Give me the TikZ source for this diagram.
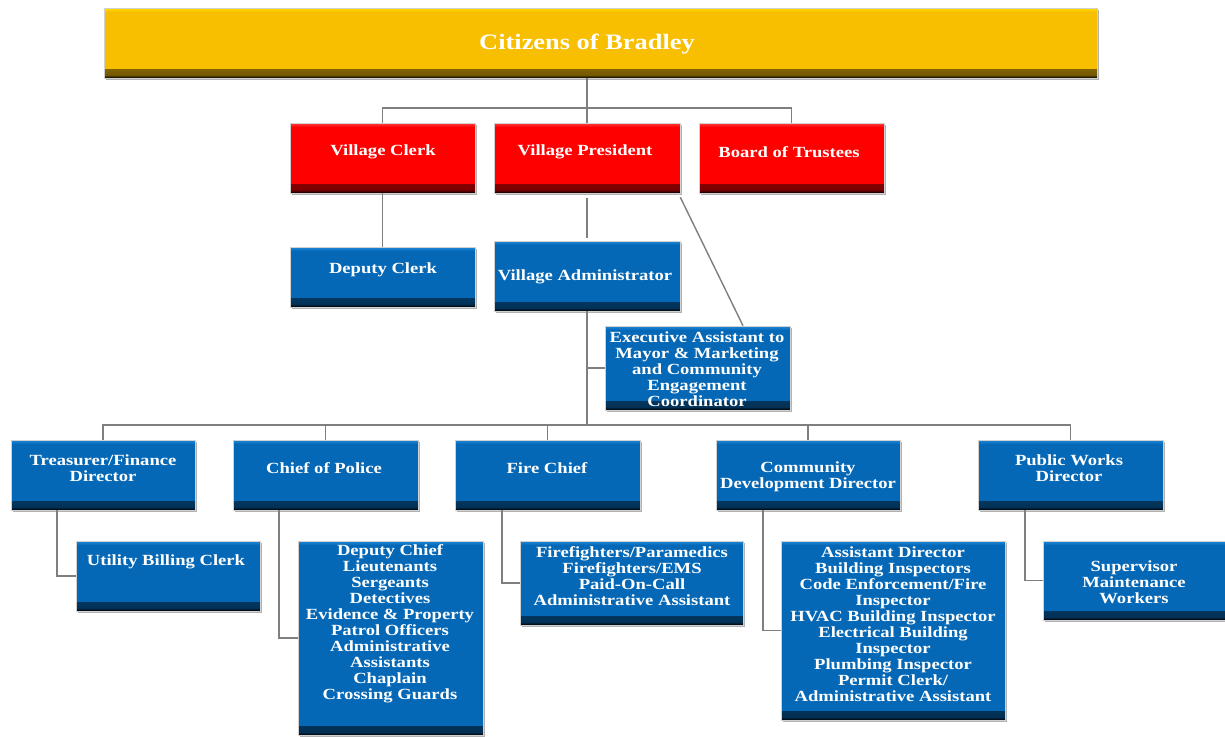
\documentclass[tikz,border=0pt]{standalone}
\usepackage{fontspec}
\setmainfont{Liberation Serif}[FakeStretch=1.2]
\usetikzlibrary{shadows}
\definecolor{boxblue}{HTML}{0568B6}
\definecolor{boxbluelight}{HTML}{1E88DA}
\definecolor{boxred}{HTML}{FF0000}
\definecolor{boxredlight}{HTML}{FF4040}
\definecolor{boxgold}{HTML}{F8BE00}
\definecolor{boxgoldlight}{HTML}{FFE000}
\definecolor{linegray}{HTML}{7F7F7F}
\tikzset{
  bevel/.style n args={2}{rectangle, draw=black!18, line width=0.6pt, inner sep=0pt, fill=#1,
    drop shadow={shadow xshift=1.5pt, shadow yshift=-1.5pt, opacity=0.3, fill=black},
    path picture={
      \shade[top color=#1, bottom color=#1!45!black]
        ([yshift=9pt]path picture bounding box.south west) rectangle ([yshift=3pt]path picture bounding box.south east);
      \shade[top color=#1!45!black, bottom color=black]
        ([yshift=3pt]path picture bounding box.south west) rectangle (path picture bounding box.south east);
      \shade[top color=#2, bottom color=#1]
        (path picture bounding box.north west) rectangle ([yshift=-4pt]path picture bounding box.north east);
    }},
  bluebox/.style={bevel={boxblue}{boxbluelight}},
  redbox/.style={bevel={boxred}{boxredlight}},
  goldbox/.style={bevel={boxgold}{boxgoldlight}},
  tlabel/.style={text=white, font=\bfseries\fontsize{15.5}{16}\selectfont, align=center, inner sep=0pt},
  conn/.style={draw=linegray, line width=1.4pt},
}
\begin{document}
\begin{tikzpicture}[x=1pt,y=-1pt]
\useasboundingbox[fill=white] (0,0) rectangle (1225,736);
\coordinate (bus1) at (588,108);
\coordinate (bus2) at (588,425);

% boxes
\node[goldbox, minimum width=993pt, minimum height=70pt] (cit) at (600.5,43) {};
\node[redbox, minimum width=185pt, minimum height=70pt] (vc) at (382.5,158) {};
\node[redbox, minimum width=186pt, minimum height=70pt] (vp) at (587,158) {};
\node[redbox, minimum width=185pt, minimum height=70pt] (bt) at (791.5,158) {};
\node[bluebox, minimum width=185pt, minimum height=60pt] (dc) at (382.5,277) {};
\node[bluebox, minimum width=186pt, minimum height=70pt] (va) at (587,276) {};
\node[bluebox, minimum width=185pt, minimum height=84pt] (ea) at (697.5,368) {};
\node[bluebox, minimum width=184pt, minimum height=70pt] (tr) at (103,475) {};
\node[bluebox, minimum width=185pt, minimum height=70pt] (cp) at (325.5,475) {};
\node[bluebox, minimum width=185pt, minimum height=70pt] (fc) at (547.5,475) {};
\node[bluebox, minimum width=184pt, minimum height=70pt] (cd) at (808,475) {};
\node[bluebox, minimum width=185pt, minimum height=70pt] (pw) at (1070.5,475) {};
\node[bluebox, minimum width=184pt, minimum height=70pt] (ub) at (168,576) {};
\node[bluebox, minimum width=185pt, minimum height=194pt] (ps) at (390.5,638) {};
\node[bluebox, minimum width=223pt, minimum height=84pt] (fs) at (631.5,583) {};
\node[bluebox, minimum width=224pt, minimum height=179pt] (cs) at (893,630.5) {};
\node[bluebox, minimum width=182pt, minimum height=79pt] (ws) at (1134,580.5) {};

% texts
\node[tlabel, font=\bfseries\fontsize{22}{24}\selectfont] (citT) at (587,44) {Citizens of Bradley};
\node[tlabel] (vcT) at (383,152) {Village Clerk};
\node[tlabel] (vpT) at (585,152) {Village President};
\node[tlabel] (btT) at (789,152) {Board of Trustees};
\node[tlabel] (dcT) at (383,270) {Deputy Clerk};
\node[tlabel] (vaT) at (585,277) {Village Administrator};
\node[tlabel] (eaT) at (697,369) {Executive Assistant to\\Mayor \& Marketing\\and Community\\Engagement\\Coordinator};
\node[tlabel] (trT) at (103,468) {Treasurer/Finance\\Director};
\node[tlabel] (cpT) at (324,468) {Chief of Police};
\node[tlabel] (fcT) at (547,468) {Fire Chief};
\node[tlabel] (cdT) at (808,476.5) {Community\\Development Director};
\node[tlabel] (pwT) at (1069,468) {Public Works\\Director};
\node[tlabel] (ubT) at (166,562) {Utility Billing Clerk};
\node[tlabel] (psT) at (390,624) {Deputy Chief\\Lieutenants\\Sergeants\\Detectives\\Evidence \& Property\\Patrol Officers\\Administrative\\Assistants\\Chaplain\\Crossing Guards};
\node[tlabel] (fsT) at (632,576) {Firefighters/Paramedics\\Firefighters/EMS\\Paid-On-Call\\Administrative Assistant};
\node[tlabel] (csT) at (893,624) {Assistant Director\\Building Inspectors\\Code Enforcement/Fire\\Inspector\\HVAC Building Inspector\\Electrical Building\\Inspector\\Plumbing Inspector\\Permit Clerk/\\Administrative Assistant};
\node[tlabel] (wsT) at (1134,582) {Supervisor\\Maintenance\\Workers};

% connectors between named nodes
\draw[conn] (cit.south -| vp.north) -- (vp.north);
\draw[conn] (vc.north) -- (vc.north |- bus1) -- (bt.north |- bus1) -- (bt.north);
\draw[conn] (vc.south) -- (dc.north);
\draw[conn] ([yshift=-5pt]vp.south) -- ([yshift=3pt]va.north);
\draw[conn] ([yshift=-4pt]vp.south east) -- ([xshift=45.5pt]ea.north);
\draw[conn] (va.south) -- (va.south |- bus2);
\draw[conn] (ea.west) -- (ea.west -| va.south);
\draw[conn] (tr.north) -- (tr.north |- bus2) -- (pw.north |- bus2) -- (pw.north);
\draw[conn] (cp.north) -- (cp.north |- bus2);
\draw[conn] (fc.north) -- (fc.north |- bus2);
\draw[conn] (cd.north) -- (cd.north |- bus2);
\draw[conn] ([xshift=-46pt]tr.south) |- (ub.west);
\draw[conn] ([xshift=-46.5pt]cp.south) |- (ps.west);
\draw[conn] ([xshift=-45.5pt]fc.south) |- (fs.west);
\draw[conn] ([xshift=-45pt]cd.south) |- (cs.west);
\draw[conn] ([xshift=-45.5pt]pw.south) |- (ws.west);
\end{tikzpicture}
\end{document}
